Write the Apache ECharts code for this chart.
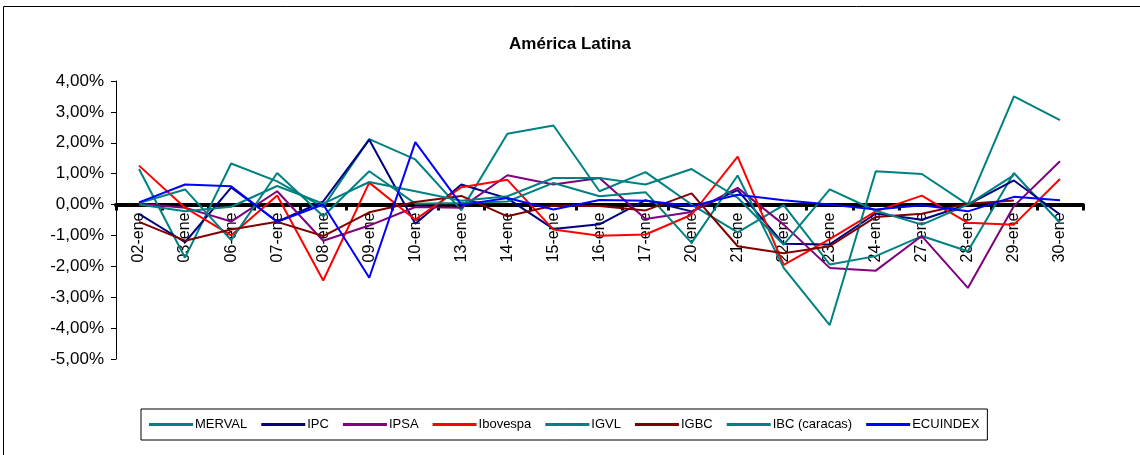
<!DOCTYPE html>
<html>
<head>
<meta charset="utf-8">
<script src="https://cdn.jsdelivr.net/npm/echarts@6/dist/echarts.min.js"></script>
<style>
html,body{margin:0;padding:0;background:#fff;}
#chart{width:1140px;height:455px;}
</style>
</head>
<body>
<div id="chart"></div>
<script>
var categories = ['02-ene','03-ene','06-ene','07-ene','08-ene','09-ene','10-ene','13-ene','14-ene','15-ene','16-ene','17-ene','20-ene','21-ene','22-ene','23-ene','24-ene','27-ene','28-ene','29-ene','30-ene'];
var seriesNames = ['MERVAL','IPC','IPSA','Ibovespa','IGVL','IGBC','IBC (caracas)','ECUINDEX'];
var seriesColors = ['#008080','#000080','#800080','#FF0000','#008080','#800000','#008080','#0000FF'];
var merval   = [1.15,-1.72,1.33,0.75,-0.08,2.12,1.46,-0.18,2.29,2.56,0.43,1.05,0.00,-0.90,-0.02,-1.94,-1.67,-1.02,-1.51,1.02,-0.59];
var ipc      = [-0.30,-1.22,0.55,-0.55,0.10,2.10,-0.62,0.65,0.20,-0.79,-0.64,0.14,-0.22,0.47,-1.27,-1.29,-0.29,-0.49,0.00,0.78,-0.32];
var ipsa     = [0.03,-0.10,-0.55,0.43,-1.17,-0.68,-0.08,-0.10,0.95,0.65,0.86,-0.47,-0.24,0.54,-0.65,-2.05,-2.14,-1.02,-2.70,-0.05,1.40];
var ibovespa = [1.26,-0.10,-1.00,0.29,-2.46,0.71,-0.49,0.56,0.80,-0.81,-1.01,-0.97,-0.33,1.55,-1.95,-1.12,-0.22,0.29,-0.59,-0.65,0.83];
var igvl     = [0.05,0.49,-1.15,1.02,-0.38,1.08,0.03,0.05,0.10,0.70,0.27,0.40,-1.24,0.94,-2.05,-3.90,1.08,0.99,0.00,3.50,2.73];
var igbc     = [-0.56,-1.17,-0.81,-0.56,-1.02,-0.25,0.08,0.28,-0.38,-0.03,-0.05,-0.19,0.36,-1.35,-1.58,-1.35,-0.40,-0.30,0.03,0.13,null];
var ibc      = [0.00,-0.22,-0.07,0.60,0.03,0.73,0.43,0.12,0.27,0.86,0.86,0.65,1.15,0.22,-1.30,0.49,-0.20,-0.65,0.00,0.95,null];
var ecuindex = [0.07,0.65,0.59,-0.56,0.00,-2.37,2.02,-0.01,0.21,-0.16,0.15,0.12,-0.05,0.32,0.14,0.00,-0.16,-0.02,-0.22,0.25,0.14];
var allData = [merval, ipc, ipsa, ibovespa, igvl, igbc, ibc, ecuindex];
var yMin = -5, yMax = 4;

var FONT = "'Liberation Sans', Arial, sans-serif";
var GRID_TOP = 81, GRID_BOTTOM = 96, H = 455;
var plotH = H - GRID_TOP - GRID_BOTTOM;
var zeroOffset = -plotH * (0 - yMin) / (yMax - yMin);

var chart = echarts.init(document.getElementById('chart'), null, {renderer:'canvas'});
var series = seriesNames.map(function(n, i){
  return {
    name: n, type: 'line', data: allData[i], symbol: 'none',
    lineStyle: {color: seriesColors[i], width: 2},
    itemStyle: {color: seriesColors[i]},
    connectNulls: false, animation: false
  };
});
chart.setOption({
  animation: false,
  backgroundColor: '#fff',
  graphic: [{
    type: 'rect', shape: {x: 3.5, y: 6.5, width: 1150, height: 460},
    style: {fill: 'none', stroke: '#000', lineWidth: 1}, silent: true, z: -10
  }],
  title: {
    text: 'América Latina', left: 'center', top: 31,
    textStyle: {fontFamily: FONT, fontSize: 17, fontWeight: 'bold', color: '#000'}
  },
  legend: {
    data: seriesNames, left: 141, top: 409,
    orient: 'horizontal', icon: 'rect', itemWidth: 44, itemHeight: 3, itemGap: 14,
    padding: [9, 8, 9, 8], borderColor: '#000', borderWidth: 1,
    textStyle: {fontFamily: FONT, fontSize: 13, color: '#000', padding: [0,0,0,-3]}
  },
  grid: {left: 116, right: 57, top: GRID_TOP, bottom: GRID_BOTTOM, containLabel: false},
  xAxis: {
    type: 'category', data: categories, boundaryGap: true,
    offset: zeroOffset,
    axisLine: {onZero: false, lineStyle: {color: '#000', width: 4}},
    axisTick: {show: true, alignWithLabel: false, length: 6, lineStyle: {color: '#000', width: 3}},
    axisLabel: {interval: 0, rotate: 90, margin: 8, fontFamily: FONT, fontSize: 16, color: '#000'},
    splitLine: {show: false}
  },
  yAxis: {
    type: 'value', min: yMin, max: yMax, interval: 1,
    axisLine: {show: true, lineStyle: {color: '#000', width: 1}},
    axisTick: {show: true, inside: false, length: 5, lineStyle: {color: '#000'}},
    axisLabel: {fontFamily: FONT, fontSize: 17, color: '#000', margin: 12,
      formatter: function(v){ return v.toFixed(2).replace('.', ',') + '%'; }},
    splitLine: {show: false}
  },
  series: series
});
</script>
</body>
</html>
